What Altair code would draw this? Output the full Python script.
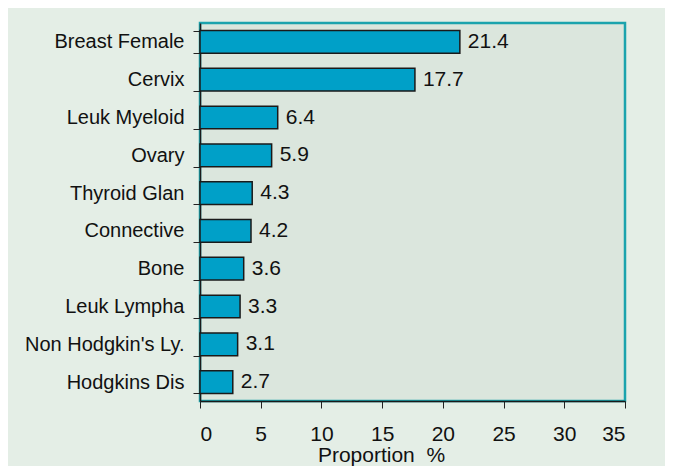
import altair as alt
import pandas as pd

categories = ["Breast Female", "Cervix", "Leuk Myeloid", "Ovary", "Thyroid Glan",
              "Connective", "Bone", "Leuk Lympha", "Non Hodgkin's Ly.", "Hodgkins Dis"]
values = [21.4, 17.7, 6.4, 5.9, 4.3, 4.2, 3.6, 3.3, 3.1, 2.7]
x_ticks = [0, 5, 10, 15, 20, 25, 30, 35]

df = pd.DataFrame({"site": categories, "value": values,
                   "label": [f"{v:.1f}" for v in values]})

FONT = "Liberation Sans"

y_enc = alt.Y("site:N", sort=categories, title=None,
              scale=alt.Scale(paddingInner=0.4, paddingOuter=0.2),
              axis=alt.Axis(tickBand="extent", tickSize=7, tickColor="#222222",
                            domainColor="#1a1a1a", domainWidth=1.5,
                            labelPadding=9, labelFontSize=20, labelFont=FONT,
                            labelColor="#111111", grid=False))

x_enc = alt.X("value:Q", title="Proportion\u00a0\u00a0%",
              scale=alt.Scale(domain=[0, 35], nice=False, zero=True),
              axis=alt.Axis(values=x_ticks, tickSize=7, tickColor="#222222",
                            domainColor="#1a1a1a", domainWidth=1.5,
                            labelPadding=15, labelFontSize=21, labelFont=FONT,
                            labelColor="#111111", grid=False,
                            titleFontSize=21, titleFont=FONT, titleFontWeight="normal",
                            titleColor="#111111", titleX=181, titleY=60,
                            titleAlign="center", titleBaseline="alphabetic"))

bars = alt.Chart(df).mark_bar(color="#00a0c8", stroke="#1a1a1a", strokeWidth=1.5).encode(
    x=x_enc, y=y_enc)

texts = alt.Chart(df).mark_text(align="left", baseline="middle", dx=8,
                                fontSize=21, font=FONT, color="#111111").encode(
    x=alt.X("value:Q"), y=alt.Y("site:N", sort=categories), text="label:N")

chart = (bars + texts).properties(
    width=425, height=378,
    autosize=alt.AutoSizeParams(type="none"),
    padding={"left": 192, "top": 15, "right": 40, "bottom": 65},
    background="#e4eee6",
).configure_view(fill="#dbe6dd", stroke="#1ba3ad", strokeWidth=2.5)

chart.save("out.html", embed_options={"renderer": "svg", "actions": False})
